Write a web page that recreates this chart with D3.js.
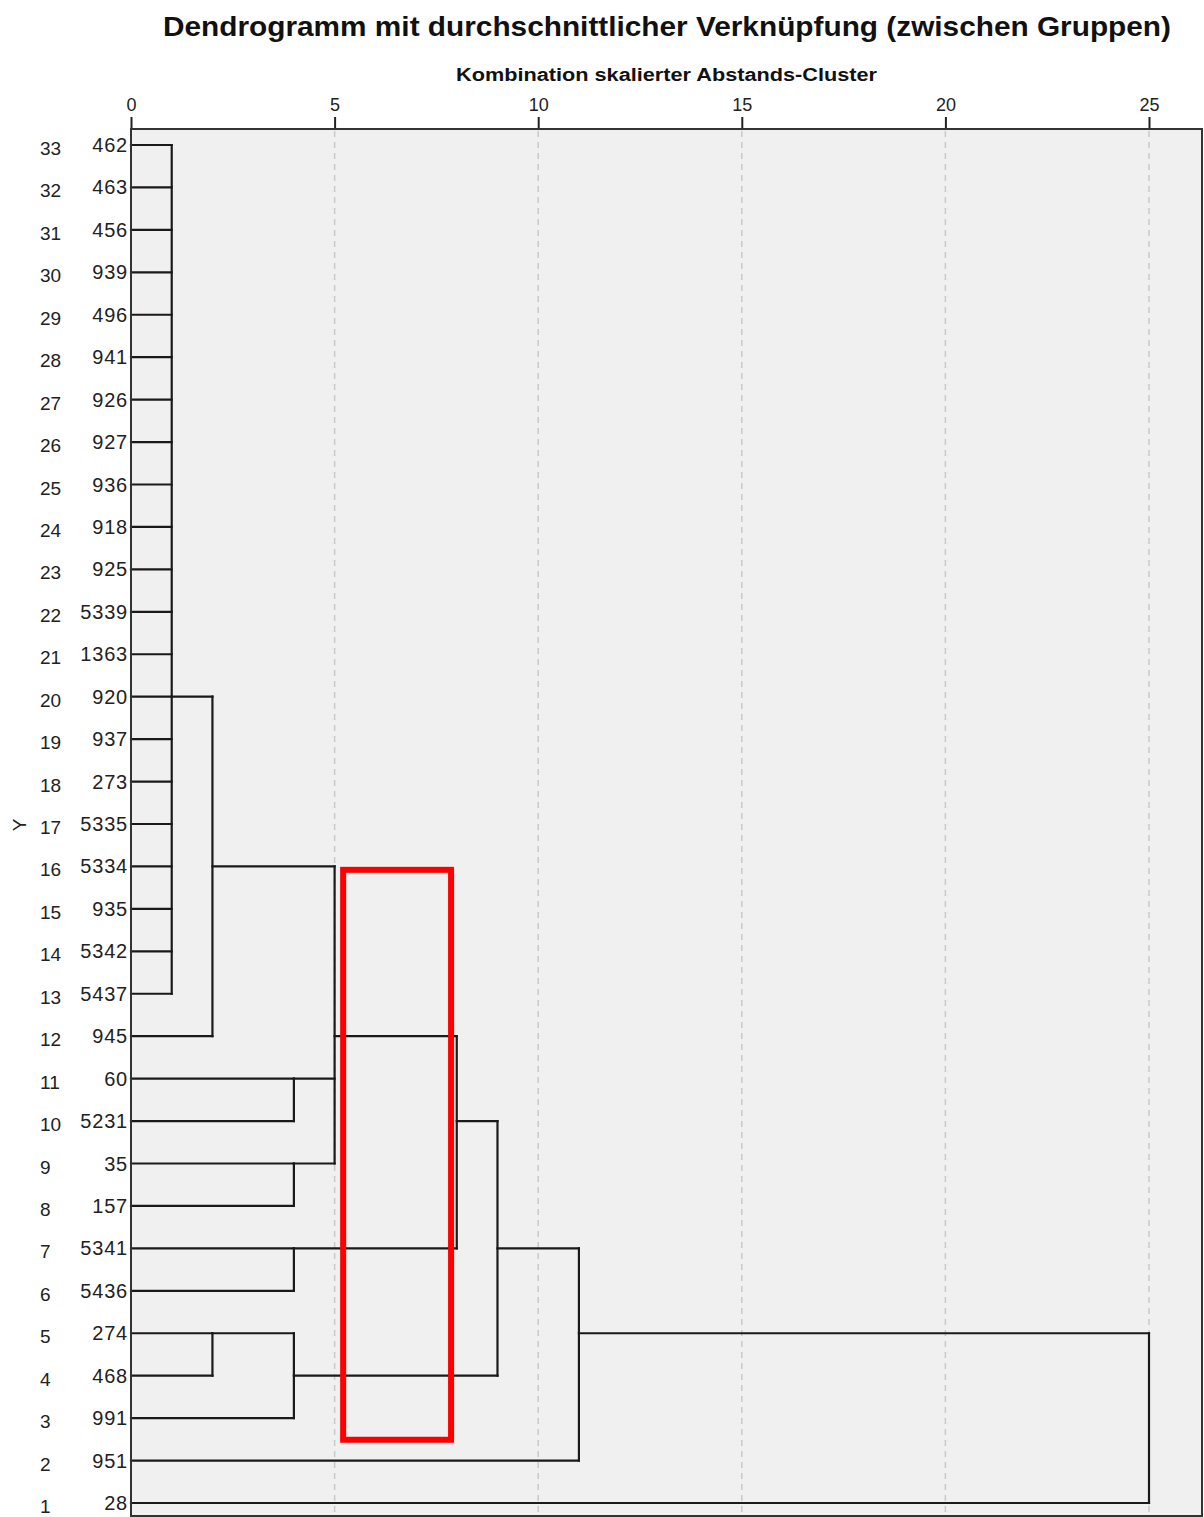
<!DOCTYPE html>
<html>
<head>
<meta charset="utf-8">
<script src="https://cdn.jsdelivr.net/npm/d3@7"></script>
<style>
  html, body { margin: 0; padding: 0; background: #fff; }
  svg { display: block; }
</style>
</head>
<body>
<svg id="chart" width="1204" height="1517"></svg>
<script>
// ---- data ----
const title = "Dendrogramm mit durchschnittlicher Verknüpfung (zwischen Gruppen)";
const xAxisTitle = "Kombination skalierter Abstands-Cluster";
const yAxisTitle = "Y";
const xTicks = [0, 5, 10, 15, 20, 25];
const gridTicks = [5, 10, 15, 20, 25];

// row number (1 = bottom) -> case label
const rowNumbers = d3.range(1, 34);
const caseLabels = ["28", "951", "991", "468", "274", "5436", "5341", "157", "35", "5231",
  "60", "945", "5437", "5342", "935", "5334", "5335", "273", "937", "920",
  "1363", "5339", "925", "918", "936", "927", "926", "941", "496", "939",
  "456", "463", "462"];

// merges: id, rescaled distance, children (r = row leaf, c = cluster), row where the cluster line leaves
const mergeIds = ["c1", "c2", "c3", "c4", "c5", "c6", "c7", "c8", "c9", "c10", "c11", "c12"];
const mergeDistances = [1, 2, 4, 4, 5, 4, 8, 2, 4, 9, 11, 25];
const mergeChildren = [
  d3.range(13, 34).map(r => "r" + r),
  ["c1", "r12"],
  ["r11", "r10"],
  ["r9", "r8"],
  ["c2", "c3", "c4"],
  ["r7", "r6"],
  ["c5", "c6"],
  ["r5", "r4"],
  ["c8", "r3"],
  ["c7", "c9"],
  ["c10", "r2"],
  ["c11", "r1"]
];
const mergeRows = [20, 16, 11, 9, 12, 7, 10, 5, 4, 7, 5, 3];

// highlight annotation (data units: distance, row)
const highlightX = [5.21, 7.86];
const highlightRows = [15.92, 2.49];

// ---- layout ----
const svg = d3.select("#chart");
const plot = { left: 131, right: 1202, top: 129, bottom: 1516 };
const x = d3.scaleLinear().domain([0, 25]).range([131, 1149]);
const y = d3.scaleLinear().domain([33, 1]).range([145, 1503]);
const font = "'Liberation Sans', Arial, sans-serif";

// title
svg.append("text")
  .attr("x", 163).attr("y", 36)
  .attr("font-family", font).attr("font-size", 27).attr("font-weight", "bold")
  .attr("textLength", 1008).attr("lengthAdjust", "spacingAndGlyphs")
  .attr("fill", "#111")
  .text(title);

svg.append("text")
  .attr("x", 456).attr("y", 81)
  .attr("font-family", font).attr("font-size", 17.5).attr("font-weight", "bold")
  .attr("textLength", 421).attr("lengthAdjust", "spacingAndGlyphs")
  .attr("fill", "#111")
  .text(xAxisTitle);

// plot background
svg.append("rect")
  .attr("x", plot.left).attr("y", plot.top)
  .attr("width", plot.right - plot.left).attr("height", plot.bottom - plot.top)
  .attr("fill", "#f0f0f0");

// gridlines
svg.append("g").selectAll("line").data(gridTicks).join("line")
  .attr("x1", d => x(d)).attr("x2", d => x(d))
  .attr("y1", plot.top + 2).attr("y2", plot.bottom)
  .attr("stroke", "#c9c9c9").attr("stroke-width", 1.5)
  .attr("stroke-dasharray", "6,5");

// top axis
const axis = svg.append("g")
  .attr("transform", `translate(0,${plot.top})`)
  .call(d3.axisTop(x).tickValues(xTicks).tickSize(12).tickPadding(6));
axis.select(".domain").remove();
axis.selectAll(".tick line").attr("stroke", "#222").attr("stroke-width", 2);
axis.selectAll(".tick text")
  .attr("font-family", font).attr("font-size", 18).attr("fill", "#222");

// dendrogram
const pos = {};
rowNumbers.forEach(r => { pos["r" + r] = { d: 0, row: r }; });
const links = g => {
  mergeIds.forEach((id, i) => {
    const dist = mergeDistances[i];
    const kids = mergeChildren[i].map(k => pos[k]);
    kids.forEach(k => {
      g.append("line")
        .attr("x1", x(k.d)).attr("x2", x(dist))
        .attr("y1", y(k.row)).attr("y2", y(k.row));
    });
    const rows = kids.map(k => k.row);
    g.append("line")
      .attr("x1", x(dist)).attr("x2", x(dist))
      .attr("y1", y(d3.max(rows))).attr("y2", y(d3.min(rows)));
    pos[id] = { d: dist, row: mergeRows[i] };
  });
};
const dg = svg.append("g")
  .attr("stroke", "#1a1a1a").attr("stroke-width", 2.2)
  .attr("stroke-linecap", "square").attr("fill", "none");
links(dg);

// border
svg.append("rect")
  .attr("x", plot.left).attr("y", plot.top)
  .attr("width", plot.right - plot.left).attr("height", plot.bottom - plot.top)
  .attr("fill", "none").attr("stroke", "#333").attr("stroke-width", 2);

// row labels
svg.append("g").selectAll("text").data(rowNumbers).join("text")
  .attr("x", 40).attr("y", d => y(d) + 10)
  .attr("font-family", font).attr("font-size", 19).attr("fill", "#222")
  .text(d => d);

svg.append("g").selectAll("text").data(rowNumbers).join("text")
  .attr("x", 128).attr("y", d => y(d) + 7)
  .attr("text-anchor", "end")
  .attr("font-family", font).attr("font-size", 20).attr("fill", "#222")
  .attr("letter-spacing", 0.8)
  .text(d => caseLabels[d - 1]);

// y axis title
svg.append("text")
  .attr("transform", `translate(26,825) rotate(-90)`)
  .attr("text-anchor", "middle")
  .attr("font-family", font).attr("font-size", 19).attr("fill", "#222")
  .text(yAxisTitle);

// highlight rectangle
svg.append("rect")
  .attr("x", x(highlightX[0])).attr("y", y(highlightRows[0]))
  .attr("width", x(highlightX[1]) - x(highlightX[0]))
  .attr("height", y(highlightRows[1]) - y(highlightRows[0]))
  .attr("fill", "none").attr("stroke", "#ff0000").attr("stroke-width", 6);
</script>
</body>
</html>
